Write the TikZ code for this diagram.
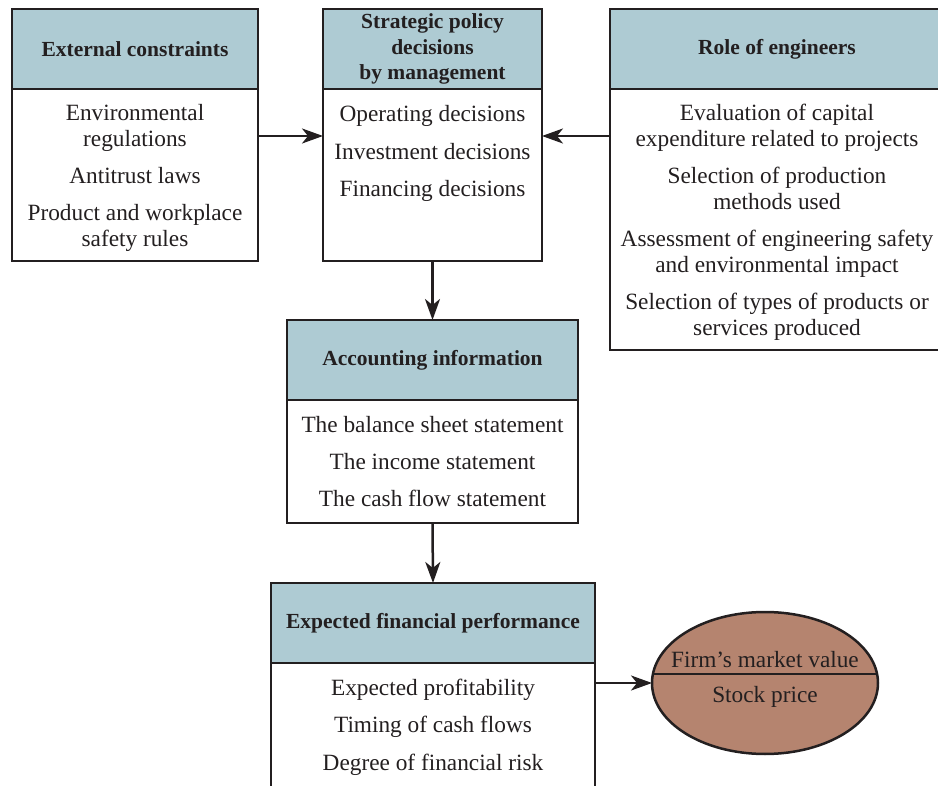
\documentclass[tikz,border=0pt]{standalone}
\usepackage{fontspec}
\setmainfont{Liberation Serif}
\usetikzlibrary{arrows.meta,shapes.geometric}
\definecolor{headblue}{HTML}{AECBD3}
\definecolor{valbrown}{HTML}{B5846F}
\definecolor{ink}{HTML}{231F20}
\newcommand{\topgap}{\rule{0pt}{22pt}}
\begin{document}
\begin{tikzpicture}[x=1pt,y=-1pt,
  every node/.style={text=ink,inner sep=0pt,outer sep=0pt},
  head/.style={draw=ink,line width=2.5pt,fill=headblue,align=center,minimum height=80pt,
    font=\fontsize{21.5}{25.5}\selectfont\bfseries},
  body/.style={draw=ink,line width=2.5pt,fill=white,align=center,anchor=north,
    font=\fontsize{23.3}{26}\selectfont},
  arr/.style={draw=ink,line width=2.5pt,-{Stealth[length=21pt,width=15pt,inset=6pt]}}]
\useasboundingbox (0,0) rectangle (938,786);
% top row
\node[head,minimum width=246pt] (ext) at (135,49) {External constraints};
\node[body,minimum width=246pt,minimum height=172pt] (extbody) at (ext.south)
  {\topgap Environmental\\regulations\\[11pt]Antitrust laws\\[11pt]Product and workplace\\safety rules};
\node[head,minimum width=219pt] (strat) at (432.5,49) {Strategic policy\\decisions\\by management};
\node[body,minimum width=219pt,minimum height=172pt] (stratbody) at (strat.south)
  {Operating decisions\\[12pt]Investment decisions\\[11pt]Financing decisions\\[22pt]\mbox{}};
\node[head,minimum width=334pt] (role) at (777,49) {Role of engineers};
\node[body,minimum width=334pt,minimum height=261pt] (rolebody) at (role.south)
  {\topgap Evaluation of capital\\expenditure related to projects\\[11pt]Selection of production\\methods used\\[11pt]%
   Assessment of engineering safety\\and environmental impact\\[11pt]Selection of types of products or\\services produced};
% middle
\node[head,minimum width=291pt] (acc) at (432.5,360) {Accounting information};
\node[body,minimum width=291pt,minimum height=123pt] (accbody) at (acc.south)
  {The balance sheet statement\\[11pt]The income statement\\[11pt]The cash flow statement};
% bottom
\node[head,minimum width=324pt] (perf) at (433,623) {Expected financial performance};
\node[body,minimum width=324pt,minimum height=128pt] (perfbody) at (perf.south)
  {Expected profitability\\[11pt]Timing of cash flows\\[12pt]Degree of financial risk};
\node[ellipse,draw=ink,line width=2.5pt,fill=valbrown,minimum width=226pt,minimum height=142pt] (mkt) at (765,683) {};
\draw[ink,line width=2pt] ([xshift=-112pt,yshift=9pt]mkt.center) -- ([xshift=112pt,yshift=9pt]mkt.center);
\node[font=\fontsize{23.3}{26}\selectfont] (mktval) at ([yshift=23pt]mkt.center) {Firm’s market value};
\node[font=\fontsize{23.3}{26}\selectfont] (stock) at ([yshift=-14pt]mkt.center) {Stock price};
% arrows
\draw[arr] ([yshift=-47pt]extbody.north east) -- ([yshift=-47pt]stratbody.north west);
\draw[arr] ([yshift=-47pt]rolebody.north west) -- ([yshift=-47pt]stratbody.north east);
\draw[arr] (stratbody.south) -- (acc.north);
\draw[arr] (accbody.south) -- (perf.north);
\draw[arr] ([yshift=-20pt]perfbody.north east) -- (mkt.west);
\end{tikzpicture}
\end{document}
